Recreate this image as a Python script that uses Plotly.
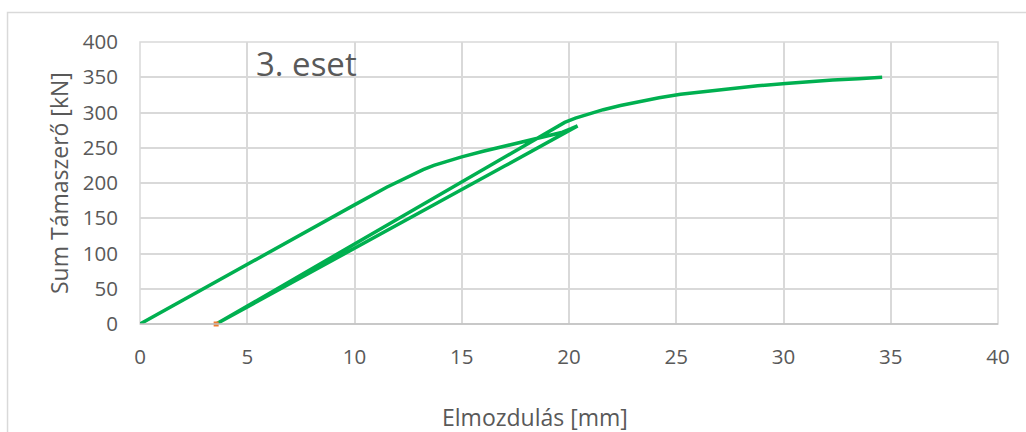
import plotly.graph_objects as go

# Load path: loading, unloading to zero, then reloading to failure
elmozdulas = [0.0, 2.0, 4.0, 6.0, 8.0, 10.0, 11.5, 12.3, 12.7, 13.2, 13.7, 14.3, 15.0,
              16.0, 17.0, 18.0, 19.0, 19.7, 20.1, 20.4,
              17.0, 14.0, 11.0, 8.0, 5.0, 3.55,
              6.0, 9.0, 12.0, 15.0, 18.0, 19.4, 19.8, 20.3, 20.9, 21.6, 22.4,
              23.3, 24.2, 25.2, 26.4, 27.6, 28.8, 30.1, 31.2, 32.3, 33.5, 34.6]
tamaszero = [0, 34, 68, 101, 135, 169, 194, 206, 212, 219, 225, 231, 237,
             245, 252, 259, 266, 272, 277, 281,
             224, 174, 124, 74, 24, 0,
             43, 96, 149, 202, 255, 280, 286, 292, 298, 304, 310,
             316, 321, 326, 330, 334, 338, 341, 344, 346, 348, 350]

# Residual displacement point
marad_x = [3.55]
marad_y = [0]

x_ticks = [0, 5, 10, 15, 20, 25, 30, 35, 40]
y_ticks = [0, 50, 100, 150, 200, 250, 300, 350, 400]

FONT = "Open Sans"
GRAY = "#595959"
GRID = "#D9D9D9"

fig = go.Figure()
fig.add_trace(go.Scatter(
    x=elmozdulas, y=tamaszero, mode="lines",
    line=dict(color="#00B050", width=3.5),
    showlegend=False, hoverinfo="skip",
))
fig.add_trace(go.Scatter(
    x=marad_x, y=marad_y, mode="markers",
    marker=dict(color="#ED7D31", size=5, symbol="square"),
    showlegend=False, hoverinfo="skip", cliponaxis=False,
))

fig.update_layout(
    width=1026, height=432,
    margin=dict(l=140, r=28, t=42, b=108),
    paper_bgcolor="white", plot_bgcolor="white",
    font=dict(family=FONT, size=20.5, color=GRAY),
    xaxis=dict(range=[0, 40], tickvals=x_ticks, showgrid=True, gridcolor=GRID,
               gridwidth=1.5, zeroline=False, showline=False, ticks="",
               ticklabelstandoff=18,
               tickfont=dict(size=20.5, color=GRAY), fixedrange=True),
    yaxis=dict(range=[0, 400], tickvals=y_ticks, showgrid=True, gridcolor=GRID,
               gridwidth=1.5, zeroline=False, showline=False, ticks="",
               ticklabelstandoff=21,
               tickfont=dict(size=20.5, color=GRAY), fixedrange=True),
    shapes=[
        # outer chart frame (left and top edges)
        dict(type="path", xref="paper", yref="paper",
             path="M -0.1544,-0.5 L -0.1544,1.1046 L 1.2,1.1046",
             line=dict(color=GRID, width=1.5)),
        # plot-area border
        dict(type="rect", xref="paper", yref="paper", x0=0, x1=1, y0=0, y1=1,
             line=dict(color=GRID, width=1.5), layer="below"),
        # axis line at zero
        dict(type="line", xref="paper", yref="paper", x0=0, x1=1, y0=0, y1=0,
             line=dict(color="#BFBFBF", width=1.5)),
    ],
    annotations=[
        dict(text="3. eset", xref="paper", yref="paper", x=(254 - 140) / 858,
             y=(324 - 63) / 282, xanchor="left", yanchor="middle",
             showarrow=False, font=dict(size=33, color=GRAY, family=FONT)),
        dict(text="Sum Támaszerő [kN]", xref="paper", yref="paper",
             x=(59 - 140) / 858, y=0.5, textangle=-90, xanchor="center",
             yanchor="middle", showarrow=False,
             font=dict(size=23, color=GRAY, family=FONT)),
        dict(text="Elmozdulás [mm]", xref="paper", yref="paper",
             x=(535 - 140) / 858, y=(324 - 417) / 282, xanchor="center",
             yanchor="middle", showarrow=False,
             font=dict(size=23, color=GRAY, family=FONT)),
    ],
)

fig.write_html("out.html")
